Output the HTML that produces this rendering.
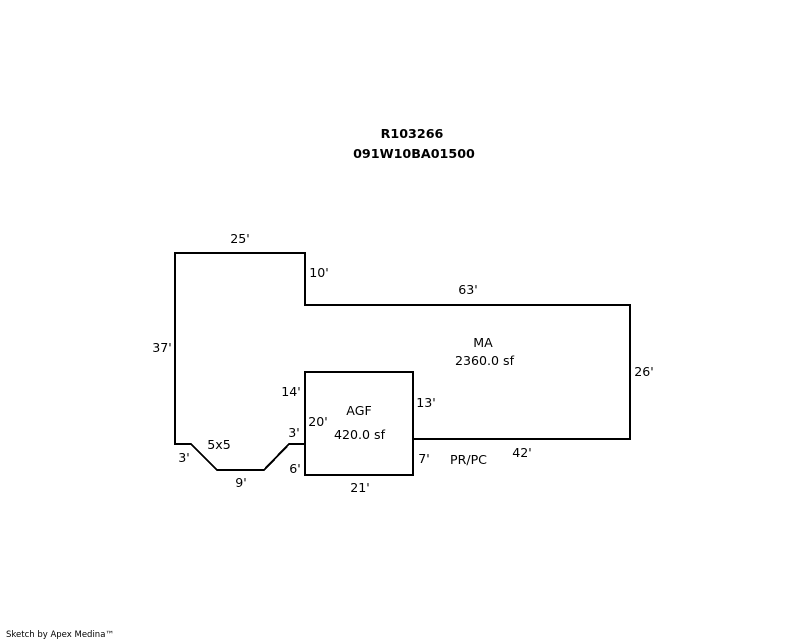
<!DOCTYPE html>
<html>
<head>
<meta charset="utf-8">
<style>
html,body{margin:0;padding:0;background:#fff;width:800px;height:640px;overflow:hidden}
svg{display:block}
text{font-family:"DejaVu Sans","Liberation Sans",sans-serif;font-size:12.6px;fill:#000;text-anchor:middle}
.b{font-weight:bold;font-size:12.7px}
.s{font-size:8.5px;text-anchor:start}
</style>
</head>
<body>
<svg width="800" height="640" viewBox="0 0 800 640" xmlns="http://www.w3.org/2000/svg">
<g fill="none" stroke="#000" stroke-width="2" stroke-linejoin="miter" shape-rendering="crispEdges">
<path d="M413 439H630V305H305V253H175V444H191L217 470H264L289 444H305"/>
<rect x="305" y="372" width="108" height="103"/>
</g>
<text class="b" x="412" y="138">R103266</text>
<text class="b" x="414" y="158">091W10BA01500</text>
<text x="240" y="243">25'</text>
<text x="319" y="277">10'</text>
<text x="468" y="294">63'</text>
<text x="162" y="352">37'</text>
<text x="483" y="347">MA</text>
<text x="484.500" y="365">2360.0 sf</text>
<text x="644" y="376">26'</text>
<text x="291" y="396">14'</text>
<text x="426" y="407">13'</text>
<text x="359" y="415">AGF</text>
<text x="318" y="426">20'</text>
<text x="359.500" y="439">420.0 sf</text>
<text x="294" y="437">3'</text>
<text x="219" y="449">5x5</text>
<text x="184" y="462">3'</text>
<text x="424" y="463">7'</text>
<text x="468.500" y="464">PR/PC</text>
<text x="522" y="457">42'</text>
<text x="295" y="473">6'</text>
<text x="241" y="487">9'</text>
<text x="360" y="492">21'</text>
<text class="s" x="6" y="637">Sketch by Apex Medina™</text>
</svg>
</body>
</html>
